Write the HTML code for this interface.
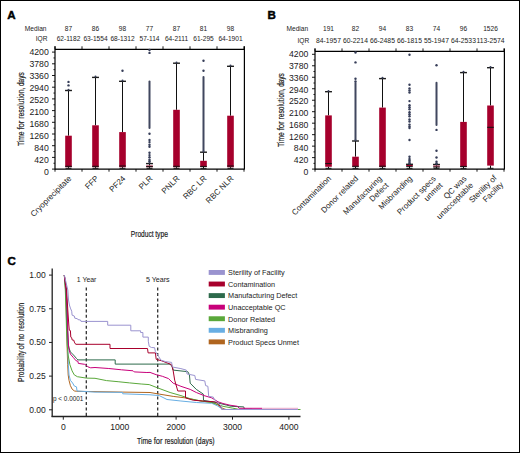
<!DOCTYPE html>
<html><head><meta charset="utf-8"><title>Figure</title>
<style>
html,body{margin:0;padding:0;background:#fff;width:520px;height:453px;overflow:hidden;}
svg{display:block;font-family:"Liberation Sans", sans-serif;}
</style></head>
<body>
<svg width="520" height="453" viewBox="0 0 520 453">
<rect width="520" height="453" fill="#fff"/>
<rect x="0.5" y="0.5" width="519" height="452" fill="none" stroke="#000" stroke-width="1"/>
<text x="7.3" y="18.7" font-size="11.6" text-anchor="start" font-weight="bold" fill="#000"  stroke="#000" stroke-width="0.45">A</text>
<text x="46.5" y="30.8" font-size="6.6" text-anchor="end" font-weight="normal" fill="#1a1a1a" >Median</text>
<text x="47.5" y="41.1" font-size="6.6" text-anchor="end" font-weight="normal" fill="#1a1a1a" >IQR</text>
<text x="68.5" y="31" font-size="6.6" text-anchor="middle" font-weight="normal" fill="#1a1a1a" >87</text>
<text x="68.5" y="41.1" font-size="6.6" text-anchor="middle" font-weight="normal" fill="#1a1a1a" >62-1182</text>
<text x="95.5" y="31" font-size="6.6" text-anchor="middle" font-weight="normal" fill="#1a1a1a" >86</text>
<text x="95.5" y="41.1" font-size="6.6" text-anchor="middle" font-weight="normal" fill="#1a1a1a" >63-1554</text>
<text x="122.5" y="31" font-size="6.6" text-anchor="middle" font-weight="normal" fill="#1a1a1a" >98</text>
<text x="122.5" y="41.1" font-size="6.6" text-anchor="middle" font-weight="normal" fill="#1a1a1a" >68-1312</text>
<text x="149.5" y="31" font-size="6.6" text-anchor="middle" font-weight="normal" fill="#1a1a1a" >77</text>
<text x="149.5" y="41.1" font-size="6.6" text-anchor="middle" font-weight="normal" fill="#1a1a1a" >57-114</text>
<text x="176.5" y="31" font-size="6.6" text-anchor="middle" font-weight="normal" fill="#1a1a1a" >87</text>
<text x="176.5" y="41.1" font-size="6.6" text-anchor="middle" font-weight="normal" fill="#1a1a1a" >64-2111</text>
<text x="203.5" y="31" font-size="6.6" text-anchor="middle" font-weight="normal" fill="#1a1a1a" >81</text>
<text x="203.5" y="41.1" font-size="6.6" text-anchor="middle" font-weight="normal" fill="#1a1a1a" >61-295</text>
<text x="230.5" y="31" font-size="6.6" text-anchor="middle" font-weight="normal" fill="#1a1a1a" >98</text>
<text x="230.5" y="41.1" font-size="6.6" text-anchor="middle" font-weight="normal" fill="#1a1a1a" >64-1901</text>
<line x1="55" y1="46.3" x2="55" y2="169.6" stroke="#000" stroke-width="1.2" />
<line x1="244.4" y1="46.3" x2="244.4" y2="169.6" stroke="#000" stroke-width="1.2" />
<line x1="55" y1="49.3" x2="244.4" y2="49.3" stroke="#000" stroke-width="1.15" />
<line x1="55" y1="169.1" x2="244.4" y2="169.1" stroke="#000" stroke-width="1.2" />
<line x1="55" y1="46.3" x2="55" y2="49.3" stroke="#000" stroke-width="0.9" />
<line x1="55" y1="169.1" x2="55" y2="171.7" stroke="#000" stroke-width="0.9" />
<line x1="82" y1="46.3" x2="82" y2="49.3" stroke="#000" stroke-width="0.9" />
<line x1="82" y1="169.1" x2="82" y2="171.7" stroke="#000" stroke-width="0.9" />
<line x1="109" y1="46.3" x2="109" y2="49.3" stroke="#000" stroke-width="0.9" />
<line x1="109" y1="169.1" x2="109" y2="171.7" stroke="#000" stroke-width="0.9" />
<line x1="136" y1="46.3" x2="136" y2="49.3" stroke="#000" stroke-width="0.9" />
<line x1="136" y1="169.1" x2="136" y2="171.7" stroke="#000" stroke-width="0.9" />
<line x1="163" y1="46.3" x2="163" y2="49.3" stroke="#000" stroke-width="0.9" />
<line x1="163" y1="169.1" x2="163" y2="171.7" stroke="#000" stroke-width="0.9" />
<line x1="190" y1="46.3" x2="190" y2="49.3" stroke="#000" stroke-width="0.9" />
<line x1="190" y1="169.1" x2="190" y2="171.7" stroke="#000" stroke-width="0.9" />
<line x1="217" y1="46.3" x2="217" y2="49.3" stroke="#000" stroke-width="0.9" />
<line x1="217" y1="169.1" x2="217" y2="171.7" stroke="#000" stroke-width="0.9" />
<line x1="244" y1="46.3" x2="244" y2="49.3" stroke="#000" stroke-width="0.9" />
<line x1="244" y1="169.1" x2="244" y2="171.7" stroke="#000" stroke-width="0.9" />
<line x1="52" y1="169.1" x2="55" y2="169.1" stroke="#000" stroke-width="0.9" />
<text x="48.75" y="175" font-size="8.7" text-anchor="end" font-weight="normal" fill="#1a1a1a" >0</text>
<line x1="53.4" y1="163.25" x2="55" y2="163.25" stroke="#000" stroke-width="0.8" />
<line x1="52" y1="157.4" x2="55" y2="157.4" stroke="#000" stroke-width="0.9" />
<text x="48.75" y="163.01" font-size="8.7" text-anchor="end" font-weight="normal" fill="#1a1a1a" >420</text>
<line x1="53.4" y1="151.55" x2="55" y2="151.55" stroke="#000" stroke-width="0.8" />
<line x1="52" y1="145.7" x2="55" y2="145.7" stroke="#000" stroke-width="0.9" />
<text x="48.75" y="151.02" font-size="8.7" text-anchor="end" font-weight="normal" fill="#1a1a1a" >840</text>
<line x1="53.4" y1="139.85" x2="55" y2="139.85" stroke="#000" stroke-width="0.8" />
<line x1="52" y1="134" x2="55" y2="134" stroke="#000" stroke-width="0.9" />
<text x="48.75" y="139.03" font-size="8.7" text-anchor="end" font-weight="normal" fill="#1a1a1a" >1260</text>
<line x1="53.4" y1="128.15" x2="55" y2="128.15" stroke="#000" stroke-width="0.8" />
<line x1="52" y1="122.3" x2="55" y2="122.3" stroke="#000" stroke-width="0.9" />
<text x="48.75" y="127.04" font-size="8.7" text-anchor="end" font-weight="normal" fill="#1a1a1a" >1680</text>
<line x1="53.4" y1="116.45" x2="55" y2="116.45" stroke="#000" stroke-width="0.8" />
<line x1="52" y1="110.6" x2="55" y2="110.6" stroke="#000" stroke-width="0.9" />
<text x="48.75" y="115.05" font-size="8.7" text-anchor="end" font-weight="normal" fill="#1a1a1a" >2100</text>
<line x1="53.4" y1="104.75" x2="55" y2="104.75" stroke="#000" stroke-width="0.8" />
<line x1="52" y1="98.9" x2="55" y2="98.9" stroke="#000" stroke-width="0.9" />
<text x="48.75" y="103.06" font-size="8.7" text-anchor="end" font-weight="normal" fill="#1a1a1a" >2520</text>
<line x1="53.4" y1="93.05" x2="55" y2="93.05" stroke="#000" stroke-width="0.8" />
<line x1="52" y1="87.2" x2="55" y2="87.2" stroke="#000" stroke-width="0.9" />
<text x="48.75" y="91.07" font-size="8.7" text-anchor="end" font-weight="normal" fill="#1a1a1a" >2940</text>
<line x1="53.4" y1="81.35" x2="55" y2="81.35" stroke="#000" stroke-width="0.8" />
<line x1="52" y1="75.5" x2="55" y2="75.5" stroke="#000" stroke-width="0.9" />
<text x="48.75" y="79.08" font-size="8.7" text-anchor="end" font-weight="normal" fill="#1a1a1a" >3360</text>
<line x1="53.4" y1="69.65" x2="55" y2="69.65" stroke="#000" stroke-width="0.8" />
<line x1="52" y1="63.8" x2="55" y2="63.8" stroke="#000" stroke-width="0.9" />
<text x="48.75" y="67.09" font-size="8.7" text-anchor="end" font-weight="normal" fill="#1a1a1a" >3780</text>
<line x1="53.4" y1="57.95" x2="55" y2="57.95" stroke="#000" stroke-width="0.8" />
<line x1="52" y1="52.1" x2="55" y2="52.1" stroke="#000" stroke-width="0.9" />
<text x="48.75" y="55.1" font-size="8.7" text-anchor="end" font-weight="normal" fill="#1a1a1a" >4200</text>
<line x1="68.5" y1="90.5" x2="68.5" y2="135.7" stroke="#111" stroke-width="1.0" />
<line x1="65.05" y1="90.5" x2="71.95" y2="90.5" stroke="#1c1c1c" stroke-width="1.4" />
<circle cx="68.5" cy="89.7" r="1.0" fill="#363d58"/>
<rect x="65.2" y="135.7" width="6.6" height="31.5" fill="#a6002c"/>
<line x1="65.2" y1="166.3" x2="71.8" y2="166.3" stroke="#111" stroke-width="1.0" />
<line x1="68.5" y1="167.2" x2="68.5" y2="168.4" stroke="#111" stroke-width="1.0" />
<line x1="65.5" y1="168.3" x2="71.5" y2="168.3" stroke="#111" stroke-width="1.0" />
<circle cx="68.5" cy="81.9" r="1.2" fill="#363d58"/>
<circle cx="68.5" cy="85.4" r="1.2" fill="#363d58"/>
<line x1="95.5" y1="77.4" x2="95.5" y2="125.3" stroke="#111" stroke-width="1.0" />
<line x1="92.05" y1="77.4" x2="98.95" y2="77.4" stroke="#1c1c1c" stroke-width="1.4" />
<circle cx="95.5" cy="76.6" r="1.0" fill="#363d58"/>
<rect x="92.2" y="125.3" width="6.6" height="41.9" fill="#a6002c"/>
<line x1="92.2" y1="166.3" x2="98.8" y2="166.3" stroke="#111" stroke-width="1.0" />
<line x1="95.5" y1="167.2" x2="95.5" y2="168.4" stroke="#111" stroke-width="1.0" />
<line x1="92.5" y1="168.3" x2="98.5" y2="168.3" stroke="#111" stroke-width="1.0" />
<line x1="122.5" y1="81.3" x2="122.5" y2="132.1" stroke="#111" stroke-width="1.0" />
<line x1="119.05" y1="81.3" x2="125.95" y2="81.3" stroke="#1c1c1c" stroke-width="1.4" />
<circle cx="122.5" cy="80.5" r="1.0" fill="#363d58"/>
<rect x="119.2" y="132.1" width="6.6" height="35.1" fill="#a6002c"/>
<line x1="119.2" y1="166" x2="125.8" y2="166" stroke="#111" stroke-width="1.0" />
<line x1="122.5" y1="167.2" x2="122.5" y2="168.4" stroke="#111" stroke-width="1.0" />
<line x1="119.5" y1="168.3" x2="125.5" y2="168.3" stroke="#111" stroke-width="1.0" />
<circle cx="122.5" cy="70.7" r="1.2" fill="#363d58"/>
<line x1="149.5" y1="163.6" x2="149.5" y2="165.5" stroke="#111" stroke-width="1.0" />
<line x1="146.05" y1="163.6" x2="152.95" y2="163.6" stroke="#1c1c1c" stroke-width="1.4" />
<circle cx="149.5" cy="162.8" r="1.0" fill="#363d58"/>
<rect x="146.2" y="165.5" width="6.6" height="1.7" fill="#a6002c"/>
<line x1="146.2" y1="166.6" x2="152.8" y2="166.6" stroke="#111" stroke-width="1.0" />
<line x1="149.5" y1="167.2" x2="149.5" y2="168.4" stroke="#111" stroke-width="1.0" />
<line x1="146.5" y1="168.3" x2="152.5" y2="168.3" stroke="#111" stroke-width="1.0" />
<circle cx="149.5" cy="50" r="1.2" fill="#363d58"/>
<circle cx="149.5" cy="52.9" r="1.2" fill="#363d58"/>
<circle cx="149.5" cy="133.8" r="1.2" fill="#363d58"/>
<circle cx="149.5" cy="140" r="1.2" fill="#363d58"/>
<circle cx="149.5" cy="142.1" r="1.2" fill="#363d58"/>
<circle cx="149.5" cy="144.7" r="1.2" fill="#363d58"/>
<circle cx="149.5" cy="146.8" r="1.2" fill="#363d58"/>
<circle cx="149.5" cy="152.8" r="1.2" fill="#363d58"/>
<circle cx="149.5" cy="155.1" r="1.2" fill="#363d58"/>
<circle cx="149.5" cy="157.2" r="1.2" fill="#363d58"/>
<circle cx="149.5" cy="159.8" r="1.2" fill="#363d58"/>
<circle cx="149.5" cy="161.2" r="1.2" fill="#363d58"/>
<line x1="149.5" y1="81.6" x2="149.5" y2="128" stroke="#40475f" stroke-width="2.0" stroke-linecap="round"/>
<line x1="176.5" y1="63.2" x2="176.5" y2="109.8" stroke="#111" stroke-width="1.0" />
<line x1="173.05" y1="63.2" x2="179.95" y2="63.2" stroke="#1c1c1c" stroke-width="1.4" />
<circle cx="176.5" cy="62.4" r="1.0" fill="#363d58"/>
<rect x="173.2" y="109.8" width="6.6" height="57.4" fill="#a6002c"/>
<line x1="173.2" y1="166.3" x2="179.8" y2="166.3" stroke="#111" stroke-width="1.0" />
<line x1="176.5" y1="167.2" x2="176.5" y2="168.4" stroke="#111" stroke-width="1.0" />
<line x1="173.5" y1="168.3" x2="179.5" y2="168.3" stroke="#111" stroke-width="1.0" />
<line x1="203.5" y1="152.2" x2="203.5" y2="160.8" stroke="#111" stroke-width="1.0" />
<line x1="200.05" y1="152.2" x2="206.95" y2="152.2" stroke="#1c1c1c" stroke-width="1.4" />
<circle cx="203.5" cy="151.4" r="1.0" fill="#363d58"/>
<rect x="200.2" y="160.8" width="6.6" height="6.2" fill="#a6002c"/>
<line x1="200.2" y1="166.4" x2="206.8" y2="166.4" stroke="#111" stroke-width="1.0" />
<line x1="203.5" y1="167" x2="203.5" y2="168.4" stroke="#111" stroke-width="1.0" />
<line x1="200.5" y1="168.3" x2="206.5" y2="168.3" stroke="#111" stroke-width="1.0" />
<circle cx="203.5" cy="60.8" r="1.2" fill="#363d58"/>
<circle cx="203.5" cy="70.75" r="1.2" fill="#363d58"/>
<line x1="203.5" y1="76.9" x2="203.5" y2="150.9" stroke="#40475f" stroke-width="2.0" stroke-linecap="round"/>
<line x1="230.5" y1="66.3" x2="230.5" y2="115.7" stroke="#111" stroke-width="1.0" />
<line x1="227.05" y1="66.3" x2="233.95" y2="66.3" stroke="#1c1c1c" stroke-width="1.4" />
<circle cx="230.5" cy="65.5" r="1.0" fill="#363d58"/>
<rect x="227.2" y="115.7" width="6.6" height="51.5" fill="#a6002c"/>
<line x1="227.2" y1="166" x2="233.8" y2="166" stroke="#111" stroke-width="1.0" />
<line x1="230.5" y1="167.2" x2="230.5" y2="168.4" stroke="#111" stroke-width="1.0" />
<line x1="227.5" y1="168.3" x2="233.5" y2="168.3" stroke="#111" stroke-width="1.0" />
<text transform="translate(72,179) rotate(-45)" font-size="8.05" text-anchor="end" fill="#1a1a1a">Cryoprecipitate</text>
<text transform="translate(99,179) rotate(-45)" font-size="8.05" text-anchor="end" fill="#1a1a1a">FFP</text>
<text transform="translate(126,179) rotate(-45)" font-size="8.05" text-anchor="end" fill="#1a1a1a">PF24</text>
<text transform="translate(153,179) rotate(-45)" font-size="8.05" text-anchor="end" fill="#1a1a1a">PLR</text>
<text transform="translate(180,179) rotate(-45)" font-size="8.05" text-anchor="end" fill="#1a1a1a">PNLR</text>
<text transform="translate(207,179) rotate(-45)" font-size="8.05" text-anchor="end" fill="#1a1a1a">RBC LR</text>
<text transform="translate(234,179) rotate(-45)" font-size="8.05" text-anchor="end" fill="#1a1a1a">RBC NLR</text>
<text transform="translate(23.6,146.1) rotate(-90)" x="0" y="0" font-size="9.9" fill="#1a1a1a" stroke="#1a1a1a" stroke-width="0.2" textLength="14.5" lengthAdjust="spacingAndGlyphs">Time</text>
<text transform="translate(23.6,129.5) rotate(-90)" x="0" y="0" font-size="9.9" fill="#1a1a1a" stroke="#1a1a1a" stroke-width="0.2" textLength="8.9" lengthAdjust="spacingAndGlyphs">for</text>
<text transform="translate(23.6,118.8) rotate(-90)" x="0" y="0" font-size="9.9" fill="#1a1a1a" stroke="#1a1a1a" stroke-width="0.2" textLength="31.2" lengthAdjust="spacingAndGlyphs">resolution,</text>
<text transform="translate(23.6,86) rotate(-90)" x="0" y="0" font-size="9.9" fill="#1a1a1a" stroke="#1a1a1a" stroke-width="0.2" textLength="13.6" lengthAdjust="spacingAndGlyphs">days</text>
<text x="267.6" y="18.8" font-size="11.6" text-anchor="start" font-weight="bold" fill="#000"  stroke="#000" stroke-width="0.45">B</text>
<text x="308.2" y="30.8" font-size="6.6" text-anchor="end" font-weight="normal" fill="#1a1a1a" >Median</text>
<text x="309.2" y="43.1" font-size="6.6" text-anchor="end" font-weight="normal" fill="#1a1a1a" >IQR</text>
<text x="328.5" y="31" font-size="6.6" text-anchor="middle" font-weight="normal" fill="#1a1a1a" >191</text>
<text x="328.5" y="43.1" font-size="6.75" text-anchor="middle" font-weight="normal" fill="#1a1a1a" >84-1957</text>
<text x="355.5" y="31" font-size="6.6" text-anchor="middle" font-weight="normal" fill="#1a1a1a" >82</text>
<text x="355.5" y="43.1" font-size="6.75" text-anchor="middle" font-weight="normal" fill="#1a1a1a" >60-2214</text>
<text x="382.5" y="31" font-size="6.6" text-anchor="middle" font-weight="normal" fill="#1a1a1a" >94</text>
<text x="382.5" y="43.1" font-size="6.75" text-anchor="middle" font-weight="normal" fill="#1a1a1a" >66-2485</text>
<text x="409.5" y="31" font-size="6.6" text-anchor="middle" font-weight="normal" fill="#1a1a1a" >83</text>
<text x="409.5" y="43.1" font-size="6.75" text-anchor="middle" font-weight="normal" fill="#1a1a1a" >66-1815</text>
<text x="436.5" y="31" font-size="6.6" text-anchor="middle" font-weight="normal" fill="#1a1a1a" >74</text>
<text x="436.5" y="43.1" font-size="6.75" text-anchor="middle" font-weight="normal" fill="#1a1a1a" >55-1947</text>
<text x="463.5" y="31" font-size="6.6" text-anchor="middle" font-weight="normal" fill="#1a1a1a" >96</text>
<text x="463.5" y="43.1" font-size="6.75" text-anchor="middle" font-weight="normal" fill="#1a1a1a" >64-2533</text>
<text x="490.5" y="31" font-size="6.6" text-anchor="middle" font-weight="normal" fill="#1a1a1a" >1526</text>
<text x="490.5" y="43.1" font-size="6.75" text-anchor="middle" font-weight="normal" fill="#1a1a1a" >113-2574</text>
<line x1="315" y1="48.4" x2="315" y2="169.6" stroke="#000" stroke-width="1.2" />
<line x1="504.4" y1="48.4" x2="504.4" y2="169.6" stroke="#000" stroke-width="1.2" />
<line x1="315" y1="51.4" x2="504.4" y2="51.4" stroke="#000" stroke-width="1.15" />
<line x1="315" y1="169.1" x2="504.4" y2="169.1" stroke="#000" stroke-width="1.2" />
<line x1="315" y1="48.4" x2="315" y2="51.4" stroke="#000" stroke-width="0.9" />
<line x1="315" y1="169.1" x2="315" y2="171.7" stroke="#000" stroke-width="0.9" />
<line x1="342" y1="48.4" x2="342" y2="51.4" stroke="#000" stroke-width="0.9" />
<line x1="342" y1="169.1" x2="342" y2="171.7" stroke="#000" stroke-width="0.9" />
<line x1="369" y1="48.4" x2="369" y2="51.4" stroke="#000" stroke-width="0.9" />
<line x1="369" y1="169.1" x2="369" y2="171.7" stroke="#000" stroke-width="0.9" />
<line x1="396" y1="48.4" x2="396" y2="51.4" stroke="#000" stroke-width="0.9" />
<line x1="396" y1="169.1" x2="396" y2="171.7" stroke="#000" stroke-width="0.9" />
<line x1="423" y1="48.4" x2="423" y2="51.4" stroke="#000" stroke-width="0.9" />
<line x1="423" y1="169.1" x2="423" y2="171.7" stroke="#000" stroke-width="0.9" />
<line x1="450" y1="48.4" x2="450" y2="51.4" stroke="#000" stroke-width="0.9" />
<line x1="450" y1="169.1" x2="450" y2="171.7" stroke="#000" stroke-width="0.9" />
<line x1="477" y1="48.4" x2="477" y2="51.4" stroke="#000" stroke-width="0.9" />
<line x1="477" y1="169.1" x2="477" y2="171.7" stroke="#000" stroke-width="0.9" />
<line x1="504" y1="48.4" x2="504" y2="51.4" stroke="#000" stroke-width="0.9" />
<line x1="504" y1="169.1" x2="504" y2="171.7" stroke="#000" stroke-width="0.9" />
<line x1="312" y1="169.1" x2="315" y2="169.1" stroke="#000" stroke-width="0.9" />
<text x="308.3" y="175" font-size="8.7" text-anchor="end" font-weight="normal" fill="#1a1a1a" >0</text>
<line x1="313.4" y1="163.36" x2="315" y2="163.36" stroke="#000" stroke-width="0.8" />
<line x1="312" y1="157.62" x2="315" y2="157.62" stroke="#000" stroke-width="0.9" />
<text x="308.3" y="163.22" font-size="8.7" text-anchor="end" font-weight="normal" fill="#1a1a1a" >420</text>
<line x1="313.4" y1="151.88" x2="315" y2="151.88" stroke="#000" stroke-width="0.8" />
<line x1="312" y1="146.14" x2="315" y2="146.14" stroke="#000" stroke-width="0.9" />
<text x="308.3" y="151.44" font-size="8.7" text-anchor="end" font-weight="normal" fill="#1a1a1a" >840</text>
<line x1="313.4" y1="140.4" x2="315" y2="140.4" stroke="#000" stroke-width="0.8" />
<line x1="312" y1="134.66" x2="315" y2="134.66" stroke="#000" stroke-width="0.9" />
<text x="308.3" y="139.66" font-size="8.7" text-anchor="end" font-weight="normal" fill="#1a1a1a" >1260</text>
<line x1="313.4" y1="128.92" x2="315" y2="128.92" stroke="#000" stroke-width="0.8" />
<line x1="312" y1="123.18" x2="315" y2="123.18" stroke="#000" stroke-width="0.9" />
<text x="308.3" y="127.88" font-size="8.7" text-anchor="end" font-weight="normal" fill="#1a1a1a" >1680</text>
<line x1="313.4" y1="117.44" x2="315" y2="117.44" stroke="#000" stroke-width="0.8" />
<line x1="312" y1="111.7" x2="315" y2="111.7" stroke="#000" stroke-width="0.9" />
<text x="308.3" y="116.1" font-size="8.7" text-anchor="end" font-weight="normal" fill="#1a1a1a" >2100</text>
<line x1="313.4" y1="105.96" x2="315" y2="105.96" stroke="#000" stroke-width="0.8" />
<line x1="312" y1="100.22" x2="315" y2="100.22" stroke="#000" stroke-width="0.9" />
<text x="308.3" y="104.32" font-size="8.7" text-anchor="end" font-weight="normal" fill="#1a1a1a" >2520</text>
<line x1="313.4" y1="94.48" x2="315" y2="94.48" stroke="#000" stroke-width="0.8" />
<line x1="312" y1="88.74" x2="315" y2="88.74" stroke="#000" stroke-width="0.9" />
<text x="308.3" y="92.54" font-size="8.7" text-anchor="end" font-weight="normal" fill="#1a1a1a" >2940</text>
<line x1="313.4" y1="83" x2="315" y2="83" stroke="#000" stroke-width="0.8" />
<line x1="312" y1="77.26" x2="315" y2="77.26" stroke="#000" stroke-width="0.9" />
<text x="308.3" y="80.76" font-size="8.7" text-anchor="end" font-weight="normal" fill="#1a1a1a" >3360</text>
<line x1="313.4" y1="71.52" x2="315" y2="71.52" stroke="#000" stroke-width="0.8" />
<line x1="312" y1="65.78" x2="315" y2="65.78" stroke="#000" stroke-width="0.9" />
<text x="308.3" y="68.98" font-size="8.7" text-anchor="end" font-weight="normal" fill="#1a1a1a" >3780</text>
<line x1="313.4" y1="60.04" x2="315" y2="60.04" stroke="#000" stroke-width="0.8" />
<line x1="312" y1="54.3" x2="315" y2="54.3" stroke="#000" stroke-width="0.9" />
<text x="308.3" y="57.2" font-size="8.7" text-anchor="end" font-weight="normal" fill="#1a1a1a" >4200</text>
<line x1="328.5" y1="91.7" x2="328.5" y2="115.4" stroke="#111" stroke-width="1.0" />
<line x1="325.05" y1="91.7" x2="331.95" y2="91.7" stroke="#1c1c1c" stroke-width="1.4" />
<circle cx="328.5" cy="90.9" r="1.0" fill="#363d58"/>
<rect x="325.2" y="115.4" width="6.6" height="51.4" fill="#a6002c"/>
<line x1="325.2" y1="163.6" x2="331.8" y2="163.6" stroke="#111" stroke-width="1.0" />
<line x1="328.5" y1="166.8" x2="328.5" y2="168.4" stroke="#111" stroke-width="1.0" />
<line x1="325.5" y1="168.3" x2="331.5" y2="168.3" stroke="#111" stroke-width="1.0" />
<line x1="355.5" y1="141" x2="355.5" y2="156.7" stroke="#111" stroke-width="1.0" />
<line x1="352.05" y1="141" x2="358.95" y2="141" stroke="#1c1c1c" stroke-width="1.4" />
<circle cx="355.5" cy="140.2" r="1.0" fill="#363d58"/>
<rect x="352.2" y="156.7" width="6.6" height="10.1" fill="#a6002c"/>
<line x1="352.2" y1="166.3" x2="358.8" y2="166.3" stroke="#111" stroke-width="1.0" />
<line x1="355.5" y1="166.8" x2="355.5" y2="168.4" stroke="#111" stroke-width="1.0" />
<line x1="352.5" y1="168.3" x2="358.5" y2="168.3" stroke="#111" stroke-width="1.0" />
<circle cx="355.5" cy="52.5" r="1.2" fill="#363d58"/>
<circle cx="355.5" cy="62.4" r="1.2" fill="#363d58"/>
<circle cx="355.5" cy="78.8" r="1.2" fill="#363d58"/>
<circle cx="355.5" cy="81.5" r="1.2" fill="#363d58"/>
<line x1="355.5" y1="82.9" x2="355.5" y2="140.1" stroke="#40475f" stroke-width="2.0" stroke-linecap="round"/>
<line x1="382.5" y1="78.6" x2="382.5" y2="107.6" stroke="#111" stroke-width="1.0" />
<line x1="379.05" y1="78.6" x2="385.95" y2="78.6" stroke="#1c1c1c" stroke-width="1.4" />
<circle cx="382.5" cy="77.8" r="1.0" fill="#363d58"/>
<rect x="379.2" y="107.6" width="6.6" height="59.4" fill="#a6002c"/>
<line x1="379.2" y1="166.2" x2="385.8" y2="166.2" stroke="#111" stroke-width="1.0" />
<line x1="382.5" y1="167" x2="382.5" y2="168.4" stroke="#111" stroke-width="1.0" />
<line x1="379.5" y1="168.3" x2="385.5" y2="168.3" stroke="#111" stroke-width="1.0" />
<line x1="409.5" y1="164.3" x2="409.5" y2="165" stroke="#111" stroke-width="1.0" />
<line x1="406.05" y1="164.3" x2="412.95" y2="164.3" stroke="#1c1c1c" stroke-width="1.4" />
<circle cx="409.5" cy="163.5" r="1.0" fill="#363d58"/>
<rect x="406.2" y="165" width="6.6" height="1" fill="#a6002c"/>
<line x1="406.2" y1="166.4" x2="412.8" y2="166.4" stroke="#111" stroke-width="1.0" />
<line x1="409.5" y1="166" x2="409.5" y2="168.4" stroke="#111" stroke-width="1.0" />
<line x1="406.5" y1="168.3" x2="412.5" y2="168.3" stroke="#111" stroke-width="1.0" />
<circle cx="409.5" cy="54.8" r="1.2" fill="#363d58"/>
<circle cx="409.5" cy="84.7" r="1.2" fill="#363d58"/>
<circle cx="409.5" cy="88.4" r="1.2" fill="#363d58"/>
<circle cx="409.5" cy="90.4" r="1.2" fill="#363d58"/>
<circle cx="409.5" cy="92.5" r="1.2" fill="#363d58"/>
<circle cx="409.5" cy="101.1" r="1.2" fill="#363d58"/>
<circle cx="409.5" cy="105.3" r="1.2" fill="#363d58"/>
<circle cx="409.5" cy="107.2" r="1.2" fill="#363d58"/>
<circle cx="409.5" cy="109.3" r="1.2" fill="#363d58"/>
<circle cx="409.5" cy="112.3" r="1.2" fill="#363d58"/>
<circle cx="409.5" cy="114.3" r="1.2" fill="#363d58"/>
<circle cx="409.5" cy="116.3" r="1.2" fill="#363d58"/>
<circle cx="409.5" cy="119.5" r="1.2" fill="#363d58"/>
<circle cx="409.5" cy="121.5" r="1.2" fill="#363d58"/>
<circle cx="409.5" cy="124.6" r="1.2" fill="#363d58"/>
<circle cx="409.5" cy="126.4" r="1.2" fill="#363d58"/>
<circle cx="409.5" cy="128" r="1.2" fill="#363d58"/>
<circle cx="409.5" cy="140" r="1.2" fill="#363d58"/>
<circle cx="409.5" cy="156.8" r="1.2" fill="#363d58"/>
<circle cx="409.5" cy="159" r="1.2" fill="#363d58"/>
<circle cx="409.5" cy="160.5" r="1.2" fill="#363d58"/>
<circle cx="409.5" cy="162" r="1.2" fill="#363d58"/>
<circle cx="409.5" cy="163.4" r="1.2" fill="#363d58"/>
<line x1="436.5" y1="164.5" x2="436.5" y2="165.6" stroke="#111" stroke-width="1.0" />
<line x1="433.05" y1="164.5" x2="439.95" y2="164.5" stroke="#1c1c1c" stroke-width="1.4" />
<circle cx="436.5" cy="163.7" r="1.0" fill="#363d58"/>
<rect x="433.2" y="165.6" width="6.6" height="1" fill="#a6002c"/>
<line x1="433.2" y1="167" x2="439.8" y2="167" stroke="#111" stroke-width="1.0" />
<line x1="436.5" y1="166.6" x2="436.5" y2="168.4" stroke="#111" stroke-width="1.0" />
<line x1="433.5" y1="168.3" x2="439.5" y2="168.3" stroke="#111" stroke-width="1.0" />
<circle cx="436.5" cy="65.3" r="1.2" fill="#363d58"/>
<circle cx="436.5" cy="129.9" r="1.2" fill="#363d58"/>
<circle cx="436.5" cy="150.7" r="1.2" fill="#363d58"/>
<circle cx="436.5" cy="157.5" r="1.2" fill="#363d58"/>
<circle cx="436.5" cy="161.8" r="1.2" fill="#363d58"/>
<circle cx="436.5" cy="163.4" r="1.2" fill="#363d58"/>
<line x1="436.5" y1="82.8" x2="436.5" y2="125" stroke="#40475f" stroke-width="2.0" stroke-linecap="round"/>
<line x1="463.5" y1="72.6" x2="463.5" y2="121.9" stroke="#111" stroke-width="1.0" />
<line x1="460.05" y1="72.6" x2="466.95" y2="72.6" stroke="#1c1c1c" stroke-width="1.4" />
<circle cx="463.5" cy="71.8" r="1.0" fill="#363d58"/>
<rect x="460.2" y="121.9" width="6.6" height="45.1" fill="#a6002c"/>
<line x1="460.2" y1="166.4" x2="466.8" y2="166.4" stroke="#111" stroke-width="1.0" />
<line x1="463.5" y1="167" x2="463.5" y2="168.4" stroke="#111" stroke-width="1.0" />
<line x1="460.5" y1="168.3" x2="466.5" y2="168.3" stroke="#111" stroke-width="1.0" />
<line x1="490.5" y1="67.7" x2="490.5" y2="105.5" stroke="#111" stroke-width="1.0" />
<line x1="487.05" y1="67.7" x2="493.95" y2="67.7" stroke="#1c1c1c" stroke-width="1.4" />
<circle cx="490.5" cy="66.9" r="1.0" fill="#363d58"/>
<rect x="487.2" y="105.5" width="6.6" height="60.1" fill="#a6002c"/>
<line x1="487.2" y1="127.3" x2="493.8" y2="127.3" stroke="#111" stroke-width="1.0" />
<line x1="490.5" y1="165.6" x2="490.5" y2="168.4" stroke="#111" stroke-width="1.0" />
<line x1="487.5" y1="168.3" x2="493.5" y2="168.3" stroke="#111" stroke-width="1.0" />
<text transform="translate(331.7,179) rotate(-45)" font-size="8.05" text-anchor="end" fill="#1a1a1a">Contamination</text>
<text transform="translate(358.7,179) rotate(-45)" font-size="8.05" text-anchor="end" fill="#1a1a1a">Donor related</text>
<text transform="translate(385.7,182.5) rotate(-45)" font-size="8.05" text-anchor="end" fill="#1a1a1a"><tspan x="0" y="-4.7">Manufacturing</tspan><tspan x="0" y="4.7">Defect</tspan></text>
<text transform="translate(412.7,179) rotate(-45)" font-size="8.05" text-anchor="end" fill="#1a1a1a">Misbranding</text>
<text transform="translate(439.7,182.5) rotate(-45)" font-size="8.05" text-anchor="end" fill="#1a1a1a"><tspan x="0" y="-4.7">Product specs</tspan><tspan x="0" y="4.7">unmet</tspan></text>
<text transform="translate(470.3,182.5) rotate(-45)" font-size="8.05" text-anchor="end" fill="#1a1a1a"><tspan x="0" y="-4.7">QC was</tspan><tspan x="0" y="4.7">unacceptable</tspan></text>
<text transform="translate(500.5,181.7) rotate(-45)" font-size="8.05" text-anchor="end" fill="#1a1a1a"><tspan x="0" y="-4.7">Sterility of</tspan><tspan x="0" y="4.7">Facility</tspan></text>
<text transform="translate(284.1,146.9) rotate(-90)" x="0" y="0" font-size="9.9" fill="#1a1a1a" stroke="#1a1a1a" stroke-width="0.2" textLength="14.5" lengthAdjust="spacingAndGlyphs">Time</text>
<text transform="translate(284.1,130.3) rotate(-90)" x="0" y="0" font-size="9.9" fill="#1a1a1a" stroke="#1a1a1a" stroke-width="0.2" textLength="8.9" lengthAdjust="spacingAndGlyphs">for</text>
<text transform="translate(284.1,119.6) rotate(-90)" x="0" y="0" font-size="9.9" fill="#1a1a1a" stroke="#1a1a1a" stroke-width="0.2" textLength="31.2" lengthAdjust="spacingAndGlyphs">resolution,</text>
<text transform="translate(284.1,86.8) rotate(-90)" x="0" y="0" font-size="9.9" fill="#1a1a1a" stroke="#1a1a1a" stroke-width="0.2" textLength="13.6" lengthAdjust="spacingAndGlyphs">days</text>
<text x="130.8" y="236.7" font-size="9.9" fill="#1a1a1a" stroke="#1a1a1a" stroke-width="0.2" textLength="22.8" lengthAdjust="spacingAndGlyphs">Product</text>
<text x="155.2" y="236.7" font-size="9.9" fill="#1a1a1a" stroke="#1a1a1a" stroke-width="0.2" textLength="12.9" lengthAdjust="spacingAndGlyphs">type</text>
<text x="7.5" y="264.9" font-size="11.6" text-anchor="start" font-weight="bold" fill="#000"  stroke="#000" stroke-width="0.45">C</text>
<line x1="52.2" y1="268.5" x2="52.2" y2="417.1" stroke="#222" stroke-width="1.3" />
<line x1="51.6" y1="416.5" x2="300.5" y2="416.5" stroke="#222" stroke-width="1.3" />
<line x1="49" y1="409.8" x2="52.2" y2="409.8" stroke="#222" stroke-width="1.0" />
<text x="45.8" y="412.8" font-size="8.5" text-anchor="end" font-weight="normal" fill="#1a1a1a" >0.00</text>
<line x1="49" y1="376.12" x2="52.2" y2="376.12" stroke="#222" stroke-width="1.0" />
<text x="45.8" y="379.12" font-size="8.5" text-anchor="end" font-weight="normal" fill="#1a1a1a" >0.25</text>
<line x1="49" y1="342.45" x2="52.2" y2="342.45" stroke="#222" stroke-width="1.0" />
<text x="45.8" y="345.45" font-size="8.5" text-anchor="end" font-weight="normal" fill="#1a1a1a" >0.50</text>
<line x1="49" y1="308.78" x2="52.2" y2="308.78" stroke="#222" stroke-width="1.0" />
<text x="45.8" y="311.78" font-size="8.5" text-anchor="end" font-weight="normal" fill="#1a1a1a" >0.75</text>
<line x1="49" y1="275.1" x2="52.2" y2="275.1" stroke="#222" stroke-width="1.0" />
<text x="45.8" y="278.1" font-size="8.5" text-anchor="end" font-weight="normal" fill="#1a1a1a" >1.00</text>
<line x1="63.3" y1="416.5" x2="63.3" y2="419.7" stroke="#222" stroke-width="1.0" />
<text x="63.3" y="430" font-size="8.6" text-anchor="middle" font-weight="normal" fill="#1a1a1a" >0</text>
<line x1="119.7" y1="416.5" x2="119.7" y2="419.7" stroke="#222" stroke-width="1.0" />
<text x="119.7" y="430" font-size="8.6" text-anchor="middle" font-weight="normal" fill="#1a1a1a" >1000</text>
<line x1="176.1" y1="416.5" x2="176.1" y2="419.7" stroke="#222" stroke-width="1.0" />
<text x="176.1" y="430" font-size="8.6" text-anchor="middle" font-weight="normal" fill="#1a1a1a" >2000</text>
<line x1="232.5" y1="416.5" x2="232.5" y2="419.7" stroke="#222" stroke-width="1.0" />
<text x="232.5" y="430" font-size="8.6" text-anchor="middle" font-weight="normal" fill="#1a1a1a" >3000</text>
<line x1="288.9" y1="416.5" x2="288.9" y2="419.7" stroke="#222" stroke-width="1.0" />
<text x="288.9" y="430" font-size="8.6" text-anchor="middle" font-weight="normal" fill="#1a1a1a" >4000</text>
<text transform="translate(24,382.1) rotate(-90)" x="0" y="0" font-size="9.9" fill="#1a1a1a" stroke="#1a1a1a" stroke-width="0.2" textLength="31.6" lengthAdjust="spacingAndGlyphs">Probability</text>
<text transform="translate(24,349.4) rotate(-90)" x="0" y="0" font-size="9.9" fill="#1a1a1a" stroke="#1a1a1a" stroke-width="0.2" textLength="6.4" lengthAdjust="spacingAndGlyphs">of</text>
<text transform="translate(24,341.1) rotate(-90)" x="0" y="0" font-size="9.9" fill="#1a1a1a" stroke="#1a1a1a" stroke-width="0.2" textLength="7.2" lengthAdjust="spacingAndGlyphs">no</text>
<text transform="translate(24,331) rotate(-90)" x="0" y="0" font-size="9.9" fill="#1a1a1a" stroke="#1a1a1a" stroke-width="0.2" textLength="28.1" lengthAdjust="spacingAndGlyphs">resolution</text>
<text x="137" y="443.5" font-size="9.9" fill="#1a1a1a" stroke="#1a1a1a" stroke-width="0.2" textLength="14.8" lengthAdjust="spacingAndGlyphs">Time</text>
<text x="153.7" y="443.5" font-size="9.9" fill="#1a1a1a" stroke="#1a1a1a" stroke-width="0.2" textLength="8.8" lengthAdjust="spacingAndGlyphs">for</text>
<text x="164.7" y="443.5" font-size="9.9" fill="#1a1a1a" stroke="#1a1a1a" stroke-width="0.2" textLength="28.4" lengthAdjust="spacingAndGlyphs">resolution</text>
<text x="195.6" y="443.5" font-size="9.9" fill="#1a1a1a" stroke="#1a1a1a" stroke-width="0.2" textLength="19" lengthAdjust="spacingAndGlyphs">(days)</text>
<line x1="86.3" y1="287.5" x2="86.3" y2="416.5" stroke="#2a2a2a" stroke-width="1.25" stroke-dasharray="3.1 2.35"/>
<line x1="157.7" y1="287.5" x2="157.7" y2="416.5" stroke="#2a2a2a" stroke-width="1.25" stroke-dasharray="3.1 2.35"/>
<text x="76.8" y="282.2" font-size="7.8" text-anchor="start" font-weight="normal" fill="#1a1a1a" textLength="19.6" lengthAdjust="spacingAndGlyphs">1 Year</text>
<text x="145.9" y="282.2" font-size="7.8" text-anchor="start" font-weight="normal" fill="#1a1a1a" textLength="23.8" lengthAdjust="spacingAndGlyphs">5 Years</text>
<text x="53" y="400.9" font-size="6.4" text-anchor="start" font-weight="normal" fill="#1a1a1a" textLength="30.4" lengthAdjust="spacingAndGlyphs">p &lt; 0.0001</text>
<polyline points="64.3,275 65.6,290 66.2,310 66.8,330 67.2,350 67.7,364.7 68.2,375 69,380.3 70.4,385.6 72.1,389.1 74.3,390.9 76.5,391.3 122.7,392.1 150,392.5 159.3,394.1 173.2,396.4 185.5,397.9 196.3,400.2 211.8,402.5 218,405 223,408.5 226,409.5 240,409.5" fill="none" stroke="#b0651f" stroke-width="1.0" stroke-linejoin="miter"/>
<polyline points="64.3,275 65.8,290 66.6,310 67.2,330 67.8,350 68.4,365.6 69,375 70.4,380.3 72.6,383 74.3,386 76.5,386.9 77,391 95,392.1 122.7,392.4 122.7,393.8 150,394.8 159.3,395.6 167,399.5 180.9,401 196.3,402.5 211.8,403.3 217.3,405.8 223,409.5 298,409.5" fill="none" stroke="#68aee3" stroke-width="1.0" stroke-linejoin="miter"/>
<polyline points="64.3,275 65.3,290 66,310 66.5,330 67.2,345 68.1,355 69.9,364.7 72.1,370.9 74.3,374.9 77.4,376.7 86.3,378.1 95,378.3 106.5,380.6 118.1,381.7 129.6,382.9 141.2,384 149.2,384.6 157.7,387.9 170.1,392.5 180.9,395.6 190.2,398.7 201,401 211.8,402.5 215,403.5 223,406.3 232.3,408.1 240,409.5 300.5,409.5" fill="none" stroke="#5aa83a" stroke-width="1.0" stroke-linejoin="miter"/>
<polyline points="64.3,275 66,290 66.8,310 67.5,330 68.3,345 69,348 70.4,351.9 73.5,355 76.5,358.5 77.9,359.9 115.2,359.9 115.2,364.1 170.1,364.1 172.4,367 173.2,370.1 187.8,371.7 189.4,374.7 190.2,383.2 196.3,389.4 203.3,394.1 203.5,400.4 216.9,402.7 226.2,405 231.2,406.3 243.8,406.9 244.4,409.3 252,409.3" fill="none" stroke="#2d6a4b" stroke-width="1.0" stroke-linejoin="miter"/>
<polyline points="64.3,275 66.2,290 67.2,310 67.8,330 68.5,345 69,349.7 70.4,354.1 73.5,357.7 76.1,360.8 77.9,361.2 78.3,363.4 84.5,364.3 86.3,365.2 88,366.9 90.7,367.8 95,367.5 108.8,368.5 121.5,369.8 133.1,370.8 134.2,371.9 146.9,372.5 150,372.4 156.2,374.7 162.4,376.3 168.5,378.6 173.2,383.2 180.9,386.3 190.2,389.4 196.3,392.5 204.1,395.6 211.8,397.9 218,401.8 223,403.5 230,405.2 237.5,406.3 239.2,408.3 262,408.3" fill="none" stroke="#c8007a" stroke-width="1.0" stroke-linejoin="miter"/>
<polyline points="64.3,275 66.6,290 67.8,310 68.8,325 69.3,330.2 70.4,330.6 70.8,337.2 71.7,337.7 72.1,339.9 73.9,340.3 74.3,342.1 75.7,344.3 110,344.3 110,348.5 147.5,348.5 148.1,352.9 155.4,352.9 156.2,359.3 161.6,360.8 167.8,363.2 171.6,364.7 173.2,370.9 174.7,380.2 177.8,391 185.5,391 185.5,397.9 193.2,400.2 202.5,401 214.9,401.8 218,403.3 221,407.5 222,409.5 262,409.5" fill="none" stroke="#a8002c" stroke-width="1.0" stroke-linejoin="miter"/>
<polyline points="64.3,275 67.8,290 68.5,300 69.4,305 70.4,308.1 71.7,311.2 72.1,315.2 74.3,316 74.8,318.2 77.4,318.7 77.9,319.6 80.5,320 81,321.4 107.7,321.4 107.7,325.2 130.8,325.2 130.8,330.8 140.6,330.8 140.6,332.5 142.9,332.5 142.9,337.1 148.3,337.1 148.3,341.2 149.2,346.3 151.5,347.5 154.6,347.7 155.4,351.6 158.5,356.2 160.8,360.1 165.4,361.6 171.6,362.4 172.4,367 180.9,368.6 186.3,370.1 187.1,374 194.8,375.5 195.6,379.4 204.8,380.9 205.6,385.6 207.9,386.3 208.7,396.4 213.3,397.1 214.9,400.2 220.8,405.8 221.9,409.5 298,409.5" fill="none" stroke="#9a93cf" stroke-width="1.0" stroke-linejoin="miter"/>
<line x1="262" y1="408.3" x2="298" y2="408.3" stroke="#e6a3c9" stroke-width="1"/>
<rect x="208.7" y="270" width="16.2" height="4.9" fill="#9a93cf"/>
<text x="228.1" y="275.3" font-size="8.0" text-anchor="start" font-weight="normal" fill="#1a1a1a" textLength="56.63" lengthAdjust="spacingAndGlyphs">Sterility of Facility</text>
<rect x="208.7" y="281.57" width="16.2" height="4.9" fill="#a8002c"/>
<text x="228.1" y="286.87" font-size="8.0" text-anchor="start" font-weight="normal" fill="#1a1a1a" textLength="46.94" lengthAdjust="spacingAndGlyphs">Contamination</text>
<rect x="208.7" y="293.14" width="16.2" height="4.9" fill="#2d6a4b"/>
<text x="228.1" y="298.44" font-size="8.0" text-anchor="start" font-weight="normal" fill="#1a1a1a" textLength="69.2" lengthAdjust="spacingAndGlyphs">Manufacturing Defect</text>
<rect x="208.7" y="304.71" width="16.2" height="4.9" fill="#c8007a"/>
<text x="228.1" y="310.01" font-size="8.0" text-anchor="start" font-weight="normal" fill="#1a1a1a" textLength="57.46" lengthAdjust="spacingAndGlyphs">Unacceptable QC</text>
<rect x="208.7" y="316.28" width="16.2" height="4.9" fill="#5aa83a"/>
<text x="228.1" y="321.58" font-size="8.0" text-anchor="start" font-weight="normal" fill="#1a1a1a" textLength="46.94" lengthAdjust="spacingAndGlyphs">Donor Related</text>
<rect x="208.7" y="327.85" width="16.2" height="4.9" fill="#68aee3"/>
<text x="228.1" y="333.15" font-size="8.0" text-anchor="start" font-weight="normal" fill="#1a1a1a" textLength="39.66" lengthAdjust="spacingAndGlyphs">Misbranding</text>
<rect x="208.7" y="339.42" width="16.2" height="4.9" fill="#b0651f"/>
<text x="228.1" y="344.72" font-size="8.0" text-anchor="start" font-weight="normal" fill="#1a1a1a" textLength="70.81" lengthAdjust="spacingAndGlyphs">Product Specs Unmet</text>
</svg>
</body></html>
